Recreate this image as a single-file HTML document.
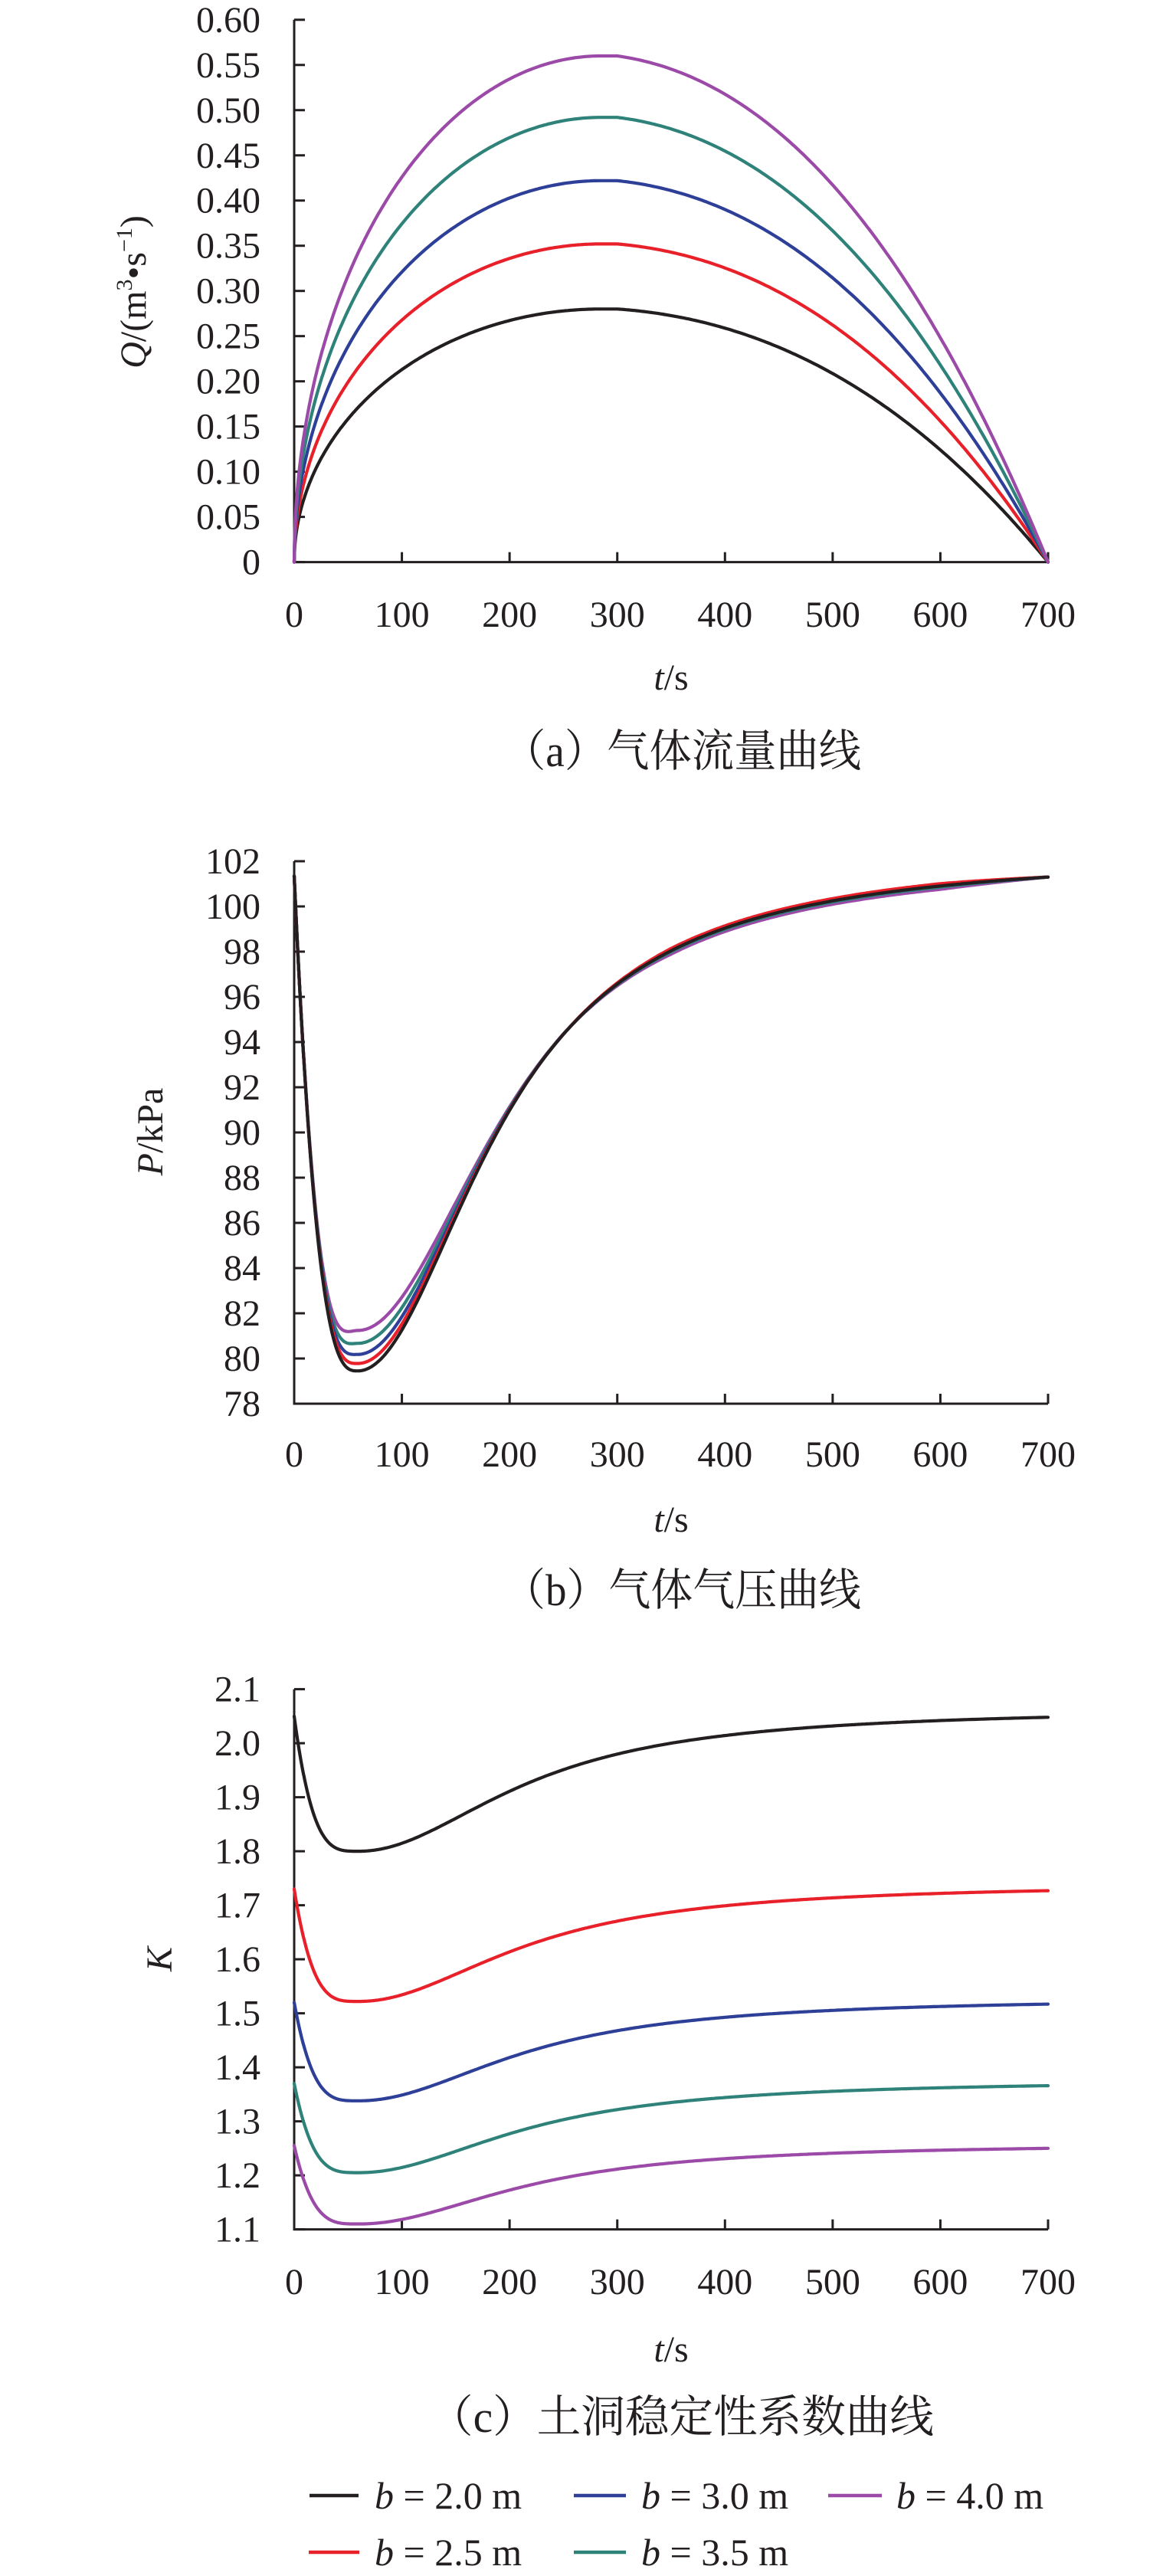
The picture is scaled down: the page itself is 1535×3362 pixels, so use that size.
<!DOCTYPE html>
<html><head><meta charset="utf-8"><style>
html,body{margin:0;padding:0;background:#fff;}
svg{display:block;}
svg text{font-family:"Liberation Serif","Times New Roman","DejaVu Serif",serif;}
svg text.cjk{font-family:"Liberation Serif","Noto Serif CJK SC","Noto Sans CJK SC",serif;}
</style></head><body>
<svg id="s" width="1535" height="3362" viewBox="0 0 1535 3362" xmlns="http://www.w3.org/2000/svg" fill="#231f20">
<g id="axes" stroke="#231f20" stroke-width="3" fill="none"></g>
<g id="curves" fill="none" stroke-width="4.2" stroke-linejoin="round" stroke-linecap="round"></g>
<g id="labels" font-size="48"></g>
<text transform="translate(190,381) rotate(-90)" text-anchor="middle" font-size="48"><tspan font-style="italic">Q</tspan>/(m<tspan font-size="30" dy="-18">3</tspan><tspan dy="18">•s</tspan><tspan font-size="30" dy="-18">−1</tspan><tspan dy="18">)</tspan></text>
<text transform="translate(212,1477) rotate(-90)" text-anchor="middle" font-size="48"><tspan font-style="italic">P</tspan>/kPa</text>
<text transform="translate(224,2557) rotate(-90)" text-anchor="middle" font-size="48" font-style="italic">K</text>
<g font-size="48" text-anchor="middle">
<text x="876" y="900"><tspan font-style="italic">t</tspan>/s</text>
<text x="876" y="1999"><tspan font-style="italic">t</tspan>/s</text>
<text x="876" y="3082"><tspan font-style="italic">t</tspan>/s</text>
</g>
<g font-size="58">
<text class="cjk" x="657" y="1000" textLength="467" lengthAdjust="spacingAndGlyphs">（a）气体流量曲线</text>
<text class="cjk" x="657" y="2095" textLength="467" lengthAdjust="spacingAndGlyphs">（b）气体气压曲线</text>
<text class="cjk" x="560" y="3174" textLength="659" lengthAdjust="spacingAndGlyphs">（c）土洞稳定性系数曲线</text>
</g>
<g stroke-width="4.5">
<line x1="404" y1="3257" x2="468" y2="3257" stroke="#231f20"/>
<line x1="749" y1="3257" x2="817" y2="3257" stroke="#2e3f98"/>
<line x1="1081" y1="3257" x2="1151" y2="3257" stroke="#9b4aa8"/>
<line x1="403" y1="3331" x2="469" y2="3331" stroke="#e8202a"/>
<line x1="749" y1="3331" x2="817" y2="3331" stroke="#2e8279"/>
</g>
<g font-size="50">
<text x="489" y="3274"><tspan font-style="italic">b</tspan> = 2.0 m</text>
<text x="837" y="3274"><tspan font-style="italic">b</tspan> = 3.0 m</text>
<text x="1170" y="3274"><tspan font-style="italic">b</tspan> = 4.0 m</text>
<text x="489" y="3348"><tspan font-style="italic">b</tspan> = 2.5 m</text>
<text x="837" y="3348"><tspan font-style="italic">b</tspan> = 3.5 m</text>
</g>
</svg>
<script>
var NS="http://www.w3.org/2000/svg";
function el(parent,tag,attrs,txt){var e=document.createElementNS(NS,tag);for(var k in attrs)e.setAttribute(k,attrs[k]);if(txt!==undefined)e.textContent=txt;document.getElementById(parent).appendChild(e);return e;}
var X0=384,X1=1368;function X(t){return X0+t*(X1-X0)/700;}
var COL=["#231f20","#e8202a","#2e3f98","#2e8279","#9b4aa8"];
function pathOf(pts){return "M"+pts.map(function(p){return p[0].toFixed(1)+","+p[1].toFixed(1);}).join(" L");}
function axes(yTop,yBot,ticks,labels){
 el("axes","path",{d:"M"+X0+","+yTop+" V"+yBot+" H"+X1});
 ticks.forEach(function(y){el("axes","line",{x1:X0,y1:y,x2:X0+14,y2:y});});
 for(var t=100;t<=700;t+=100){el("axes","line",{x1:X(t),y1:yBot,x2:X(t),y2:yBot-13});}
 ticks.forEach(function(y,i){el("labels","text",{x:340,y:y+16,"text-anchor":"end"},labels[i]);});
}
function xlabels(y){for(var t=0;t<=700;t+=100){el("labels","text",{x:X(t),y:y,"text-anchor":"middle"},String(t));}}
function steps(fn){var pts=[];for(var t=0;t<=700;t+=(t<80?0.5:2))pts.push(fn(t));return pts;}
// (a)
var Ya=function(v){return 733.6-v*(733.6-25.8)/0.6;};
var tk=[],lb=[];for(var i=0;i<=12;i++){tk.push(Ya(i*0.05));lb.push(i==0?"0":(i*0.05).toFixed(2));}
axes(25.8,733.6,tk,lb);xlabels(818);
var amps=[0.28,0.352,0.422,0.492,0.56];
function g(t){var s=(t-300)/400;return 1-0.12*s-0.68*s*s-0.2*s*s*s;}
amps.forEach(function(A,k){
 var pts=steps(function(t){var f;
  if(t<=285)f=Math.sqrt(1-Math.pow(1-t/285,2));else if(t<=300)f=1;else f=g(t);
  return [X(t),Ya(A*f)];});
 el("curves","path",{d:pathOf(pts),stroke:COL[k]});});
// (b)
var Yb=function(p){return 1124+(102-p)*29.5;};
tk=[];lb=[];for(var p=102;p>=78;p-=2){tk.push(Yb(p));lb.push(String(p));}
axes(1124,1832,tk,lb);xlabels(1914);
function rise(t,tm,c){var x=(t-tm)/c,x2=x*x,e=(700-tm)/c;e=e*e;return (x2/(1+x2))/(e/(1+e));}
function Pn(t){return t<59?Math.pow((59-t)/59,2.83):rise(t,59,140);}
var mins=[79.45,79.78,80.18,80.67,81.24];
var late=[0,0.1,0,-0.05,-0.15];
[4,3,2,1,0].forEach(function(k){
 var pts=steps(function(t){var v=79.45+Pn(t)*((t<59?101.35:101.3)-79.45);
  var w=(t<59?Math.exp(-Math.pow((t-59)/30,2)):Math.exp(-Math.pow((t-59)/90,2)))*(1-Math.exp(-t/6));
  var lw=t<250?0:(t<350?(t-250)/100:(t>600?Math.max(0,(700-t)/100):1));
  v+=(mins[k]-79.45)*w+late[k]*lw;return [X(t),Yb(v)];});
 el("curves","path",{d:pathOf(pts),stroke:COL[k]});});
// (c)
var Yc=function(v){return 2909.6-(v-1.1)*705;};
tk=[];lb=[];for(var i=0;i<=10;i++){var v=2.1-i*0.1;tk.push(Yc(v));lb.push(v.toFixed(1));}
axes(Yc(2.1),Yc(1.1),tk,lb);xlabels(2994);
function Kn(t){return t<60?Math.pow((60-t)/60,3.6):rise(t,60,164.6);}
var K=[[2.05,1.80,2.048],[1.73,1.522,1.727],[1.52,1.338,1.517],[1.37,1.205,1.366],[1.255,1.11,1.25]];
K.forEach(function(c,k){
 var pts=steps(function(t){var v=c[1]+Kn(t)*((t<60?c[0]:c[2])-c[1]);return [X(t),Yc(v)];});
 el("curves","path",{d:pathOf(pts),stroke:COL[k]});});
</script>
</body></html>
